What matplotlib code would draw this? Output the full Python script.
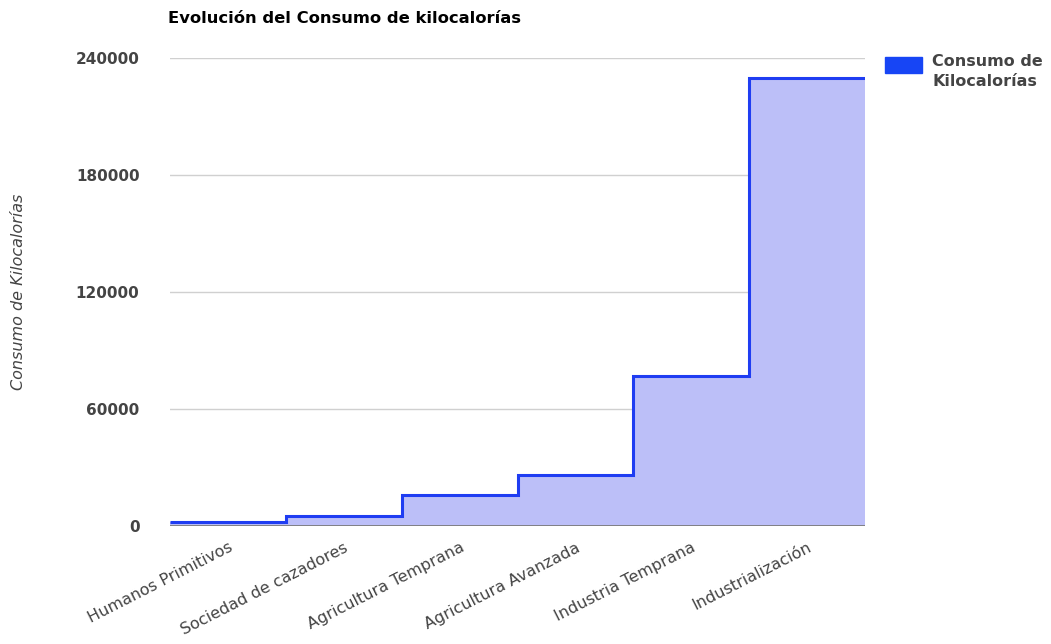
import numpy as np
import matplotlib.pyplot as plt
from matplotlib.patches import Rectangle

# Consumo de kilocalorías por etapa
etapas = ['Humanos Primitivos', 'Sociedad de cazadores', 'Agricultura Temprana',
          'Agricultura Avanzada', 'Industria Temprana', 'Industrialización']
kcal = [2000, 5000, 16000, 26000, 77000, 230000]
yticks = [0, 60000, 120000, 180000, 240000]

fill_color = '#bcbff8'
line_color = '#1f3df2'
text_color = '#444444'

plt.rcParams['font.family'] = 'DejaVu Sans'

fig = plt.figure(figsize=(10.51, 6.44), dpi=100)
ax = fig.add_axes([0.1618, 0.1832, 0.6613, 0.7267])

edges = np.arange(len(etapas) + 1)
ax.stairs(kcal, edges, fill=True, color=fill_color, baseline=0, zorder=2)
ax.stairs(kcal, edges, baseline=None, color=line_color, linewidth=2.2, zorder=3)

ax.set_xlim(0, len(etapas))
ax.set_ylim(0, 240000)

# cuadrícula horizontal
ax.set_yticks(yticks)
ax.set_yticklabels([str(v) for v in yticks], fontsize=11, fontweight='bold', color=text_color)
ax.yaxis.grid(True, color='#d0d0d0', linewidth=1, zorder=1)
ax.axhline(0, color='#7a7a7a', linewidth=2, zorder=4)
ax.tick_params(axis='y', length=0, pad=22)

ax.set_xticks(edges[:-1] + 0.5)
ax.set_xticklabels(etapas, rotation=27, ha='right', rotation_mode='anchor',
                   fontsize=11.5, color=text_color)
ax.tick_params(axis='x', length=0, pad=10)

for s in ax.spines.values():
    s.set_visible(False)

ax.set_ylabel('Consumo de Kilocalorías', fontsize=11.5, style='italic',
              color=text_color, labelpad=36)

fig.text(0.16, 0.972, 'Evolución del Consumo de kilocalorías', fontsize=11.8,
         fontweight='bold', color='black', ha='left', va='center')

# leyenda a la derecha del área de trazado
fig.patches.append(Rectangle((885 / 1051, 1 - 73 / 644), 37 / 1051, 16 / 644,
                             transform=fig.transFigure, color='#1745f5'))
fig.text(932 / 1051, 1 - 54 / 644, 'Consumo de\nKilocalorías', fontsize=11.5,
         fontweight='bold', color=text_color, ha='left', va='top', linespacing=1.45)

fig.savefig('out.png', dpi=100)
